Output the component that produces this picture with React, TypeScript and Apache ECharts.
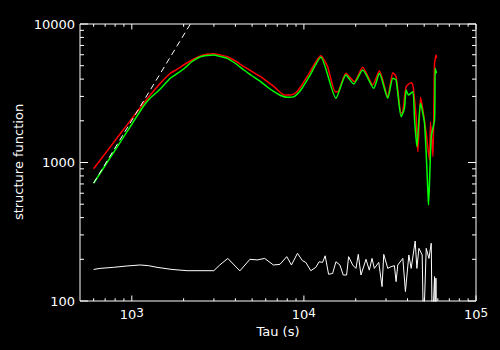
import React, { useEffect, useRef } from "react";
import * as echarts from "echarts";

const X_MIN = 500;
const X_MAX = 100000;
const Y_MIN = 100;
const Y_MAX = 10000;

const xTitle = "Tau (s)";
const yTitle = "structure function";

const xMajorTicks = [1000, 10000, 100000];
const xMinorTicks = [600, 700, 800, 900, 2000, 3000, 4000, 5000, 6000, 7000, 8000, 9000, 20000, 30000, 40000, 50000, 60000, 70000, 80000, 90000];
const yMajorTicks = [100, 1000, 10000];
const yMinorTicks = [200, 300, 400, 500, 600, 700, 800, 900, 2000, 3000, 4000, 5000, 6000, 7000, 8000, 9000];

const redSeries: number[][] = [
  [600, 902], [850, 1591], [1000, 2073], [1170, 2675], [1280, 3071], [1464, 3731], [1674, 4406],
  [1831, 4709], [2001, 5058], [2240, 5495], [2504, 5874], [2740, 6042], [2995, 6102], [3276, 5971],
  [3584, 5805], [4006, 5406], [4479, 4917], [5014, 4524], [5607, 4164], [6132, 3832], [6700, 3526],
  [7330, 3191], [7664, 3071], [8386, 3071], [8967, 3191], [9590, 3526], [10720, 4406], [12540, 5901],
  [13720, 4917], [15200, 3244], [15700, 3244], [17550, 4406], [19620, 3832], [21960, 4868],
  [25120, 3627], [27440, 4600], [30710, 2986], [32850, 4450], [34330, 4164], [36720, 2265],
  [37570, 2326], [39270, 3526], [42000, 3769], [42970, 3627], [44920, 2084], [45960, 1197],
  [47580, 2956], [49140, 2393], [51380, 1625], [52560, 1266], [53700, 1042], [54430, 1970],
  [56210, 1101], [57430, 5201], [58750, 5971], [58980, 5652],
];

const greenSeries: number[][] = [
  [600, 708], [850, 1382], [1000, 1888], [1170, 2560], [1280, 2922], [1464, 3394], [1674, 4055],
  [2001, 4732], [2240, 5361], [2504, 5805], [2740, 5923], [2995, 5971], [3276, 5825], [3584, 5652],
  [4006, 5185], [4479, 4654], [5014, 4212], [5607, 3832], [6132, 3509], [6700, 3244], [7330, 3046],
  [8021, 2956], [8765, 2986], [9590, 3337], [10720, 4164], [12540, 5748], [15350, 2906],
  [17550, 4283], [19460, 3688], [21960, 4654], [25450, 3433], [27440, 4406], [30710, 2906],
  [32850, 4055], [34330, 3942], [36720, 2141], [38380, 2461], [39270, 3337], [40510, 3071],
  [42970, 3244], [43900, 2084], [45340, 1300], [47580, 2675], [50210, 1919], [52560, 615],
  [52990, 493], [54940, 1536], [57430, 2027], [57960, 4787], [58980, 4406],
];

const whiteSeries: number[][] = [
  [600, 169], [654, 172], [782, 175], [936, 179], [1119, 182], [1251, 180], [1401, 175], [1713, 169],
  [2095, 165.5], [2995, 165.5], [3245, 182], [3613, 203], [4245, 165], [4856, 200], [5362, 198],
  [5916, 203], [6647, 182], [7262, 184], [7948, 209], [8466, 182], [9175, 221], [9810, 195.5],
  [10257, 190], [10970, 165.5], [11730, 175], [12260, 192], [12830, 190], [13290, 212], [13910, 156],
  [14680, 158], [15350, 192], [16190, 182], [16920, 154], [17710, 154], [18190, 209], [19200, 182],
  [20070, 172], [20700, 217], [21460, 154], [22950, 200], [23990, 167], [24880, 203], [25660, 172],
  [27220, 190], [28450, 127], [29110, 217], [30710, 172], [32110, 177], [33560, 180], [34330, 138],
  [35120, 182], [37570, 203], [38900, 117], [40720, 215], [42000, 172], [44320, 271], [45340, 172],
  [46570, 240], [48680, 215], [49540, 60], [51380, 240], [53270, 203], [54940, 261], [55680, 60],
  [57430, 150], [57960, 60], [58500, 146], [58980, 60],
];

const powerLaw: number[][] = [[600, 710], [2190, 10000]];

const FONT = "DejaVu Sans";

function isPow10(v: number) {
  const e = Math.log10(v);
  return Math.abs(e - Math.round(e)) < 1e-6;
}

export default function App() {
  const ref = useRef<HTMLDivElement>(null);
  useEffect(() => {
    if (!ref.current) return;
    const chart = echarts.init(ref.current, undefined, { renderer: "svg" });
    const xTickData = [
      ...xMajorTicks.map((v) => [v, Y_MIN, 1]),
      ...xMinorTicks.map((v) => [v, Y_MIN, 0]),
    ];
    const yTickData = [
      ...yMajorTicks.map((v) => [X_MIN, v, 1]),
      ...yMinorTicks.map((v) => [X_MIN, v, 0]),
    ];
    const stroke = { stroke: "#fff", lineWidth: 1 };
    chart.setOption({
      animation: false,
      backgroundColor: "#000",
      grid: {
        left: 80,
        top: 24,
        right: 24,
        bottom: 49,
        show: true,
        borderColor: "#fff",
        borderWidth: 1,
        backgroundColor: "transparent",
      },
      xAxis: {
        type: "log",
        logBase: 10,
        min: X_MIN,
        max: X_MAX,
        axisLine: { show: false },
        axisTick: { show: false },
        splitLine: { show: false },
        axisLabel: {
          margin: 6,
          formatter: (v: number) => (isPow10(v) ? `{b|10}{s|${Math.round(Math.log10(v))}}` : ""),
          rich: {
            b: { fontSize: 13, fontFamily: FONT, color: "#fff", lineHeight: 14, verticalAlign: "bottom" },
            s: { fontSize: 12, fontFamily: FONT, color: "#fff", lineHeight: 12, verticalAlign: "top" },
          },
        },
      },
      yAxis: {
        type: "log",
        logBase: 10,
        min: Y_MIN,
        max: Y_MAX,
        axisLine: { show: false },
        axisTick: { show: false },
        splitLine: { show: false },
        axisLabel: {
          margin: 5,
          color: "#fff",
          fontSize: 13,
          fontFamily: FONT,
          formatter: (v: number) => (isPow10(v) ? String(Math.round(v)) : ""),
        },
      },
      graphic: [
        {
          type: "text",
          x: 278,
          y: 331,
          style: { text: xTitle, fill: "#fff", fontSize: 13, fontFamily: FONT, textAlign: "center", textVerticalAlign: "middle" },
        },
        {
          type: "text",
          x: 18,
          y: 162,
          rotation: Math.PI / 2,
          style: { text: yTitle, fill: "#fff", fontSize: 13, fontFamily: FONT, textAlign: "center", textVerticalAlign: "middle" },
        },
      ],
      series: [
        {
          type: "line",
          data: redSeries,
          showSymbol: false,
          smooth: 0.2,
          lineStyle: { color: "#ff0000", width: 1.5 },
          z: 2,
        },
        {
          type: "line",
          data: greenSeries,
          showSymbol: false,
          smooth: 0.2,
          lineStyle: { color: "#00ff00", width: 1.5 },
          z: 3,
        },
        {
          type: "line",
          data: whiteSeries,
          showSymbol: false,
          lineStyle: { color: "#ffffff", width: 1 },
          z: 3,
        },
        {
          type: "line",
          data: powerLaw,
          showSymbol: false,
          lineStyle: { color: "#ffffff", width: 1, type: [6, 4] },
          z: 4,
        },
        {
          type: "custom",
          silent: true,
          data: xTickData,
          encode: { x: 0, y: 1 },
          z: 5,
          renderItem: (_p: any, api: any) => {
            const v = api.value(0);
            const major = api.value(2) === 1;
            const b = api.coord([v, Y_MIN]);
            const t = api.coord([v, Y_MAX]);
            const len = major ? 5.5 : 2.75;
            return {
              type: "group",
              children: [
                { type: "line", shape: { x1: b[0], y1: b[1], x2: b[0], y2: b[1] - len }, style: stroke },
                { type: "line", shape: { x1: t[0], y1: t[1], x2: t[0], y2: t[1] + len }, style: stroke },
              ],
            };
          },
        },
        {
          type: "custom",
          silent: true,
          data: yTickData,
          encode: { x: 0, y: 1 },
          z: 5,
          renderItem: (_p: any, api: any) => {
            const v = api.value(1);
            const major = api.value(2) === 1;
            const l = api.coord([X_MIN, v]);
            const r = api.coord([X_MAX, v]);
            const len = major ? 8 : 4;
            return {
              type: "group",
              children: [
                { type: "line", shape: { x1: l[0], y1: l[1], x2: l[0] + len, y2: l[1] }, style: stroke },
                { type: "line", shape: { x1: r[0], y1: r[1], x2: r[0] - len, y2: r[1] }, style: stroke },
              ],
            };
          },
        },
      ],
    });
    return () => chart.dispose();
  }, []);
  return (
    <div
      ref={ref}
      style={{ position: "fixed", left: 0, top: 0, width: 500, height: 350, background: "#000" }}
    />
  );
}
